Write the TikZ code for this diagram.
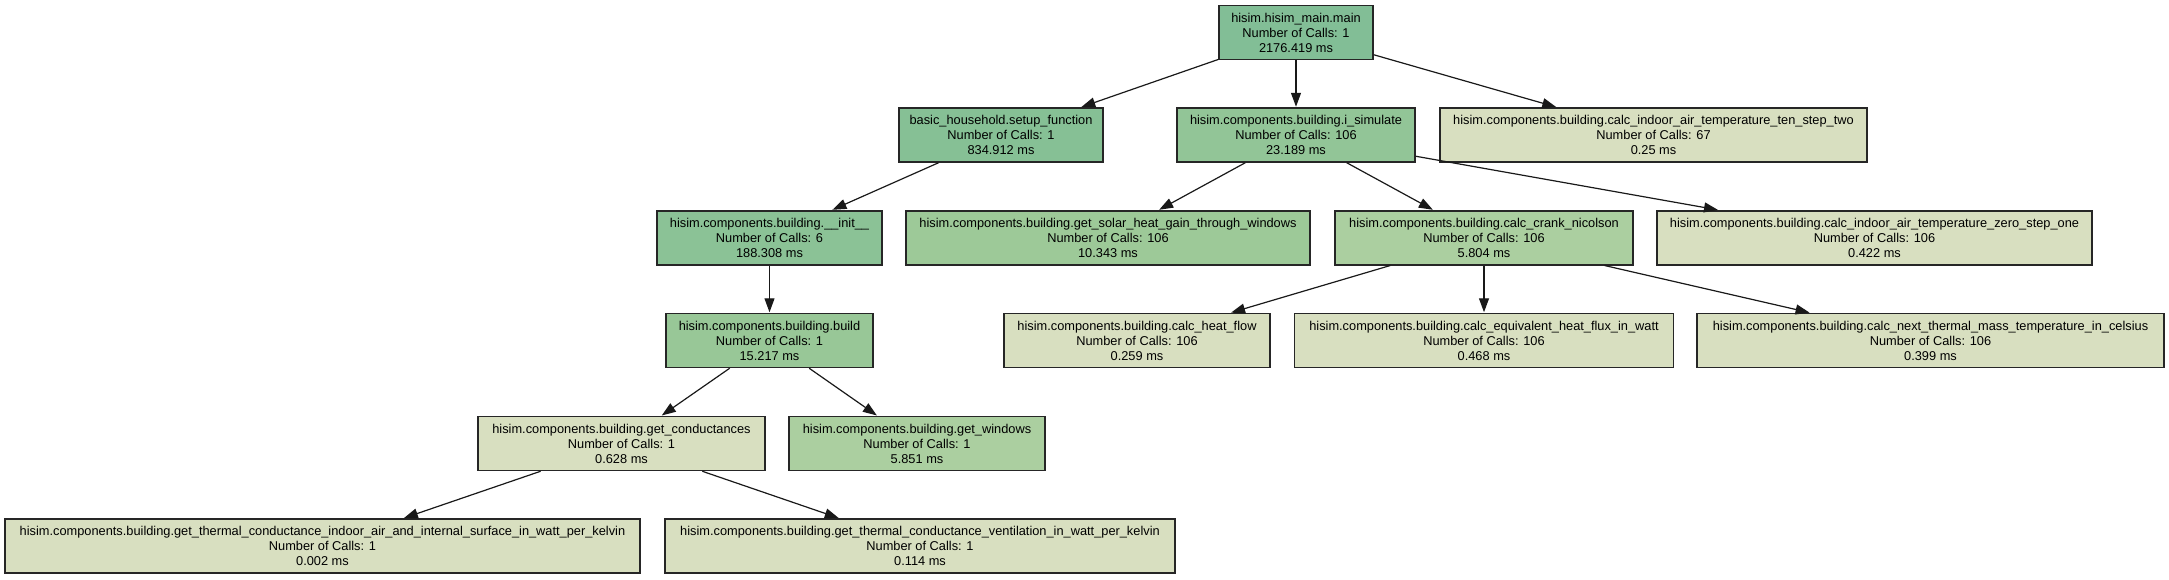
\documentclass[tikz,border=0pt]{standalone}
\usepackage{fontspec}
\setmainfont{Liberation Sans}
\usetikzlibrary{arrows.meta}
\definecolor{cMain}{HTML}{82BE96}
\definecolor{cSetup}{HTML}{86C095}
\definecolor{cInit}{HTML}{8BC296}
\definecolor{cSim}{HTML}{92C597}
\definecolor{cBuild}{HTML}{98C797}
\definecolor{cSolar}{HTML}{9DC998}
\definecolor{cCrank}{HTML}{ABCFA0}
\definecolor{cPale}{HTML}{D8DFC0}
\tikzset{
  fn/.style={draw=black!85, line width=1.5pt, rectangle, inner sep=0pt, minimum height=54pt,
    align=center, font=\fontsize{12.8}{15}\selectfont},
  call/.style={line width=1.2pt, draw=black!90, -{Triangle[length=14pt,width=10pt]}, shorten >=0.5pt}
}
\begin{document}
\begin{tikzpicture}[x=1pt,y=-1pt]
\useasboundingbox (0,0) rectangle (2169,579);
\node[fn, fill=cMain, minimum width=154pt] (main) at (1296,32.5) {hisim.hisim\_main.main\\Number of Calls: 1\\2176.419 ms};
\node[fn, fill=cSetup, minimum width=204pt] (setup) at (1001,135) {basic\_household.setup\_function\\Number of Calls: 1\\834.912 ms};
\node[fn, fill=cSim, minimum width=238pt] (sim) at (1296,135) {hisim.components.building.i\_simulate\\Number of Calls: 106\\23.189 ms};
\node[fn, fill=cPale, minimum width=427pt] (ten) at (1653.5,135) {hisim.components.building.calc\_indoor\_air\_temperature\_ten\_step\_two\\Number of Calls: 67\\0.25 ms};
\node[fn, fill=cInit, minimum width=225pt] (init) at (769.5,237.75) {hisim.components.building.\_\_init\_\_\\Number of Calls: 6\\188.308 ms};
\node[fn, fill=cSolar, minimum width=404pt] (solar) at (1108,237.75) {hisim.components.building.get\_solar\_heat\_gain\_through\_windows\\Number of Calls: 106\\10.343 ms};
\node[fn, fill=cCrank, minimum width=298pt] (crank) at (1484,237.75) {hisim.components.building.calc\_crank\_nicolson\\Number of Calls: 106\\5.804 ms};
\node[fn, fill=cPale, minimum width=435pt] (zero) at (1874.5,237.75) {hisim.components.building.calc\_indoor\_air\_temperature\_zero\_step\_one\\Number of Calls: 106\\0.422 ms};
\node[fn, fill=cBuild, minimum width=207pt] (build) at (769.5,340.5) {hisim.components.building.build\\Number of Calls: 1\\15.217 ms};
\node[fn, fill=cPale, minimum width=266pt] (heat) at (1137,340.5) {hisim.components.building.calc\_heat\_flow\\Number of Calls: 106\\0.259 ms};
\node[fn, fill=cPale, minimum width=379pt] (equiv) at (1484,340.5) {hisim.components.building.calc\_equivalent\_heat\_flux\_in\_watt\\Number of Calls: 106\\0.468 ms};
\node[fn, fill=cPale, minimum width=467pt] (next) at (1930.5,340.5) {hisim.components.building.calc\_next\_thermal\_mass\_temperature\_in\_celsius\\Number of Calls: 106\\0.399 ms};
\node[fn, fill=cPale, minimum width=287pt] (cond) at (621.5,443.5) {hisim.components.building.get\_conductances\\Number of Calls: 1\\0.628 ms};
\node[fn, fill=cCrank, minimum width=256pt] (win) at (917,443.5) {hisim.components.building.get\_windows\\Number of Calls: 1\\5.851 ms};
\node[fn, fill=cPale, minimum width=635pt] (indoor) at (322.5,546) {hisim.components.building.get\_thermal\_conductance\_indoor\_air\_and\_internal\_surface\_in\_watt\_per\_kelvin\\Number of Calls: 1\\0.002 ms};
\node[fn, fill=cPale, minimum width=510pt] (vent) at (920,546) {hisim.components.building.get\_thermal\_conductance\_ventilation\_in\_watt\_per\_kelvin\\Number of Calls: 1\\0.114 ms};
\draw[call] (main) -- (setup);
\draw[call] (main) -- (sim);
\draw[call] (main) -- (ten);
\draw[call] (setup) -- (init);
\draw[call] (sim) -- (solar);
\draw[call] (sim) -- (crank);
\draw[call] (sim) -- (zero);
\draw[call] (init) -- (build);
\draw[call] (crank) -- (heat);
\draw[call] (crank) -- (equiv);
\draw[call] (crank) -- (next);
\draw[call] (build) -- (cond);
\draw[call] (build) -- (win);
\draw[call] (cond) -- (indoor);
\draw[call] (cond) -- (vent);
\end{tikzpicture}
\end{document}
